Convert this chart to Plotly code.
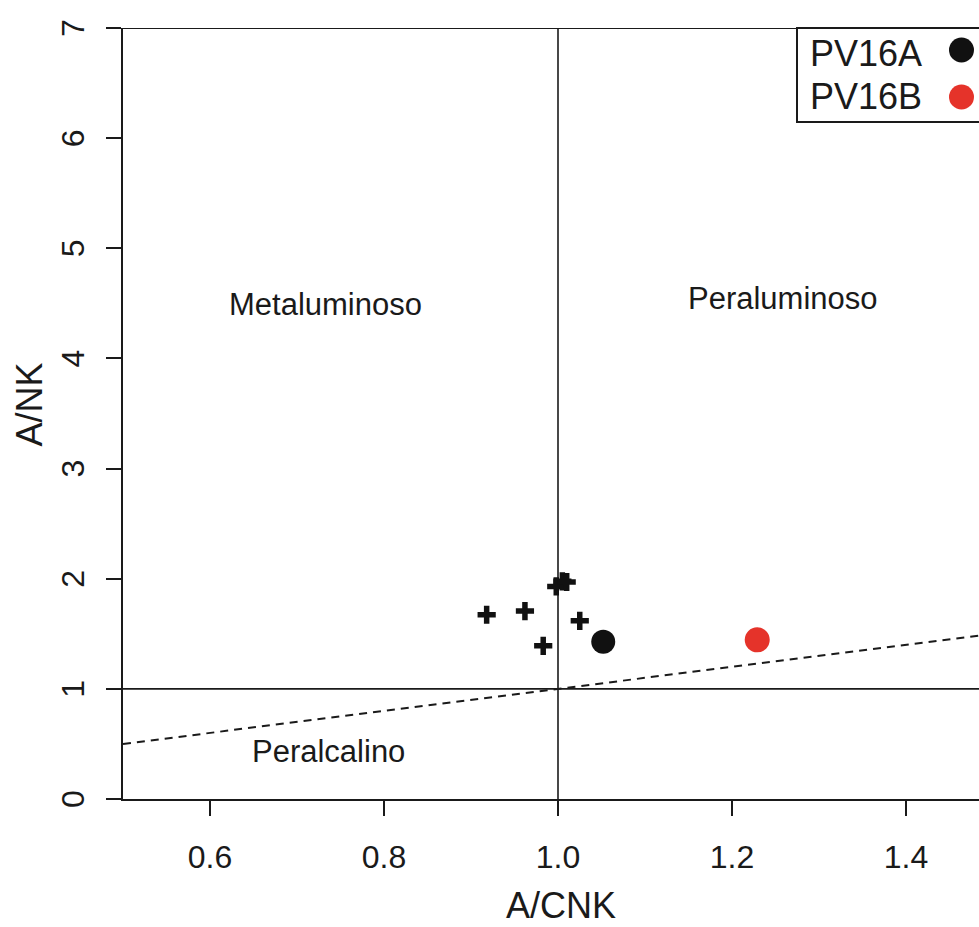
import plotly.graph_objects as go

# ---- data ----
cross_x = [0.918, 0.962, 0.983, 0.998, 1.005, 1.010, 1.025]
cross_y = [1.673, 1.706, 1.391, 1.930, 1.976, 1.970, 1.618]
pv16a_x = [1.052]
pv16a_y = [1.427]
pv16b_x = [1.229]
pv16b_y = [1.445]
diag_x = [0.5, 1.0, 1.5]
diag_y = [0.5, 1.0, 1.5]
vline_x = [1.0, 1.0]
vline_y = [0.0, 7.0]
hline_x = [0.5, 1.5]
hline_y = [1.0, 1.0]
x_ticks = [0.6, 0.8, 1.0, 1.2, 1.4]
x_tick_labels = ["0.6", "0.8", "1.0", "1.2", "1.4"]
y_ticks = [0, 1, 2, 3, 4, 5, 6, 7]
y_tick_labels = ["0", "1", "2", "3", "4", "5", "6", "7"]
region_labels = ["Metaluminoso", "Peraluminoso", "Peralcalino"]
region_x = [0.733, 1.259, 0.736]
region_y = [4.49, 4.545, 0.43]
legend_names = ["PV16A", "PV16B"]
legend_colors = ["#111111", "#E5332A"]

FONT = "Liberation Sans, Arial, Helvetica, sans-serif"
INK = "#1a1a1a"

W, H = 979, 927
L, R, T, B = 123, 0, 28, 128
pw = W - L - R
ph = H - T - B

def px_x(p):
    return (p - L) / pw

def px_y(p):
    return 1 - (p - T) / ph

fig = go.Figure()

fig.add_trace(go.Scatter(x=diag_x, y=diag_y, mode="lines",
                         line=dict(color=INK, width=2, dash="8px,6px"),
                         hoverinfo="skip", showlegend=False))
fig.add_trace(go.Scatter(x=vline_x, y=vline_y, mode="lines",
                         line=dict(color=INK, width=1.6),
                         hoverinfo="skip", showlegend=False))
fig.add_trace(go.Scatter(x=hline_x, y=hline_y, mode="lines",
                         line=dict(color=INK, width=1.6),
                         hoverinfo="skip", showlegend=False))
fig.add_trace(go.Scatter(x=cross_x, y=cross_y, mode="markers",
                         marker=dict(symbol="cross-thin", size=13,
                                     line=dict(color="#111111", width=5.5)),
                         showlegend=False))
fig.add_trace(go.Scatter(x=pv16a_x, y=pv16a_y, mode="markers", name=legend_names[0],
                         marker=dict(symbol="circle", size=24, color=legend_colors[0],
                                     line=dict(width=0)),
                         showlegend=False))
fig.add_trace(go.Scatter(x=pv16b_x, y=pv16b_y, mode="markers", name=legend_names[1],
                         marker=dict(symbol="circle", size=25, color=legend_colors[1],
                                     line=dict(width=0)),
                         showlegend=False))

x_max = 0.5 + (W - L) / 870.0

annotations = []
for t, x, y in zip(region_labels, region_x, region_y):
    annotations.append(dict(x=x, y=y, xref="x", yref="y", text=t, showarrow=False,
                            font=dict(family=FONT, size=31, color=INK),
                            xanchor="center", yanchor="middle"))

# rotated y tick labels (R style, parallel to the axis)
for v, t in zip(y_ticks, y_tick_labels):
    annotations.append(dict(x=px_x(73), y=v, xref="paper", yref="y", text=t,
                            showarrow=False, textangle=-90,
                            font=dict(family=FONT, size=32, color=INK),
                            xanchor="center", yanchor="middle"))

# axis titles
annotations.append(dict(x=px_x(561), y=px_y(905), xref="paper", yref="paper",
                        text="A/CNK", showarrow=False,
                        font=dict(family=FONT, size=36, color=INK),
                        xanchor="center", yanchor="middle"))
annotations.append(dict(x=px_x(28.5), y=px_y(405), xref="paper", yref="paper",
                        text="A/NK", showarrow=False, textangle=-90,
                        font=dict(family=FONT, size=36, color=INK),
                        xanchor="center", yanchor="middle"))

# legend texts
leg_text_y = [52, 94]
leg_mark_y = [50, 97]
shapes = []
for name, col, ty, my in zip(legend_names, legend_colors, leg_text_y, leg_mark_y):
    annotations.append(dict(x=px_x(808), y=px_y(ty + 2), xref="paper", yref="paper",
                            text=name, showarrow=False,
                            font=dict(family=FONT, size=36, color=INK),
                            xanchor="left", yanchor="middle"))
    shapes.append(dict(type="circle", xref="paper", yref="paper",
                       xsizemode="pixel", ysizemode="pixel",
                       xanchor=px_x(961.5), yanchor=px_y(my),
                       x0=-12.5, x1=12.5, y0=-12.5, y1=12.5,
                       fillcolor=col, line=dict(width=0), layer="above"))

# legend box
shapes.append(dict(type="rect", xref="paper", yref="paper",
                   x0=px_x(797), x1=1.05, y0=px_y(122), y1=1.0,
                   line=dict(color=INK, width=2), fillcolor="rgba(0,0,0,0)"))
# top border
shapes.append(dict(type="line", xref="paper", yref="y", x0=0, x1=1.05, y0=7, y1=7,
                   line=dict(color=INK, width=2)))

fig.update_layout(
    width=W, height=H,
    margin=dict(l=L, r=R, t=T, b=B),
    paper_bgcolor="white", plot_bgcolor="white",
    font=dict(family=FONT, color=INK),
    annotations=annotations,
    shapes=shapes,
    showlegend=False,
)
fig.update_xaxes(range=[0.5, x_max], tickvals=x_ticks, ticktext=x_tick_labels,
                 ticks="outside", ticklen=15, tickwidth=2, tickcolor=INK,
                 showline=True, linecolor=INK, linewidth=2,
                 showgrid=False, zeroline=False,
                 tickfont=dict(family=FONT, size=32, color=INK),
                 ticklabelstandoff=14)
fig.update_yaxes(range=[0, 7], tickvals=y_ticks, showticklabels=False,
                 ticks="outside", ticklen=15, tickwidth=2, tickcolor=INK,
                 showline=True, linecolor=INK, linewidth=2,
                 showgrid=False, zeroline=False)

fig.write_html("out.html")
